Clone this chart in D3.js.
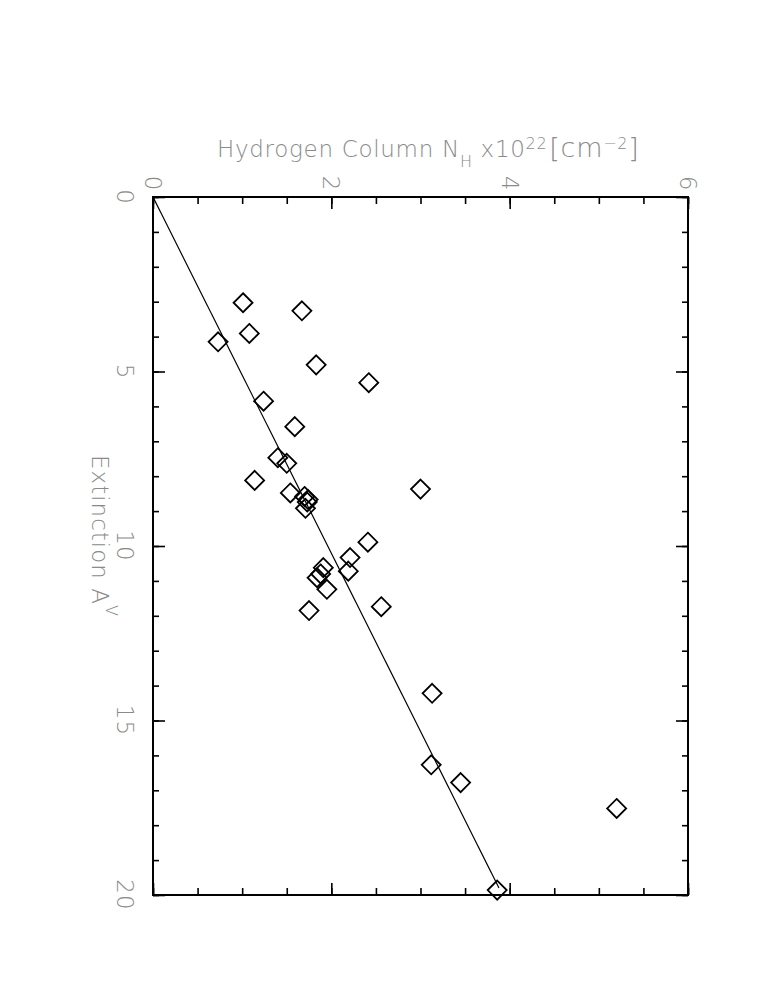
<!DOCTYPE html>
<html>
<head>
<meta charset="utf-8">
<script src="https://cdn.jsdelivr.net/npm/d3@7"></script>
<style>
  body { margin: 0; background: #fff; }
  svg text { font-family: "DejaVu Sans", "Liberation Sans", sans-serif; font-weight: 200; fill: #8a8a8a; }
</style>
</head>
<body>
<div class="canvas"></div>
<script>
// extinction A_V (vertical axis) and hydrogen column N_H x1e22 (horizontal axis)
const avValues = [3.03, 3.26, 3.91, 4.15, 4.81, 5.32, 5.85, 6.58, 7.47, 7.63,
                  8.12, 8.37, 8.48, 8.58, 8.67, 8.74, 8.92, 9.89, 10.33, 10.72,
                  10.62, 10.80, 10.91, 11.24, 11.74, 11.85, 14.22, 16.27, 16.78, 17.52, 19.86]
const nhValues = [1.01, 1.67, 1.08, 0.73, 1.83, 2.42, 1.24, 1.59, 1.40, 1.50,
                  1.14, 3.00, 1.54, 1.70, 1.74, 1.73, 1.71, 2.41, 2.21, 2.19,
                  1.91, 1.88, 1.84, 1.95, 2.56, 1.75, 3.13, 3.12, 3.45, 5.20, 3.86]

// fitted line N_H = k * A_V
const fitAv = [0, 19.8]
const fitNh = [0, 3.88]

const nhMajor = [0, 2, 4, 6]
const nhMinor = d3.range(0, 6.01, 0.5)
const avMajor = [0, 5, 10, 15, 20]
const avMinor = d3.range(0, 20.01, 1)

const width = 766, height = 996
const frame = {left: 153, right: 688, top: 197, bottom: 895}

const svg = d3.select('.canvas')
    .append('svg')
    .attr('width', width)
    .attr('height', height)

const x = d3.scaleLinear().domain([0, 6]).range([frame.left, frame.right])
const y = d3.scaleLinear().domain([0, 20]).range([frame.top, frame.bottom])

// tick marks on all four sides, pointing inwards
const tickSets = [
    {axis: d3.axisTop(x), vals: nhMinor, size: -7, pos: `translate(0,${frame.top})`},
    {axis: d3.axisTop(x), vals: nhMajor, size: -12, pos: `translate(0,${frame.top})`},
    {axis: d3.axisBottom(x), vals: nhMinor, size: -7, pos: `translate(0,${frame.bottom})`},
    {axis: d3.axisBottom(x), vals: nhMajor, size: -12, pos: `translate(0,${frame.bottom})`},
    {axis: d3.axisLeft(y), vals: avMinor, size: -6, pos: `translate(${frame.left},0)`},
    {axis: d3.axisLeft(y), vals: avMajor, size: -12, pos: `translate(${frame.left},0)`},
    {axis: d3.axisRight(y), vals: avMinor, size: -6, pos: `translate(${frame.right},0)`},
    {axis: d3.axisRight(y), vals: avMajor, size: -12, pos: `translate(${frame.right},0)`}
]

tickSets.forEach(s => {
    const g = svg.append('g')
        .attr('transform', s.pos)
        .call(s.axis.tickValues(s.vals).tickSize(s.size).tickFormat(''))
    g.select('.domain').remove()
    g.selectAll('.tick line').attr('stroke', '#000').attr('stroke-width', 1.6)
    g.selectAll('.tick text').remove()
})

// rotated tick labels
svg.append('g').selectAll('text')
    .data(nhMajor)
    .enter()
    .append('text')
    .attr('transform', d => `translate(${x(d)},${frame.top - 14}) rotate(90)`)
    .attr('text-anchor', 'middle')
    .attr('dominant-baseline', 'central')
    .style('font-size', '23px')
    .text(d => d)

svg.append('g').selectAll('text')
    .data(avMajor)
    .enter()
    .append('text')
    .attr('transform', d => `translate(${frame.left - 28},${y(d)}) rotate(90)`)
    .attr('text-anchor', 'middle')
    .attr('dominant-baseline', 'central')
    .style('font-size', '23px')
    .style('letter-spacing', '1px')
    .text(d => d)

// frame
svg.append('rect')
    .attr('x', frame.left)
    .attr('y', frame.top)
    .attr('width', frame.right - frame.left)
    .attr('height', frame.bottom - frame.top)
    .attr('fill', 'none')
    .attr('stroke', '#000')
    .attr('stroke-width', 2)

// fit line
svg.append('line')
    .attr('x1', x(fitNh[0])).attr('y1', y(fitAv[0]))
    .attr('x2', x(fitNh[1])).attr('y2', y(fitAv[1]))
    .attr('stroke', '#000')
    .attr('stroke-width', 1.2)

// diamonds
const r = 9.5
svg.append('g').selectAll('path')
    .data(avValues.map((a, i) => [nhValues[i], a]))
    .enter()
    .append('path')
    .attr('d', d => {
        const cx = x(d[0]), cy = y(d[1])
        return `M${cx},${cy - r}L${cx + r},${cy}L${cx},${cy + r}L${cx - r},${cy}Z`
    })
    .attr('fill', 'none')
    .attr('stroke', '#000')
    .attr('stroke-width', 1.8)

// top title
const title = svg.append('text')
    .attr('x', 217)
    .attr('y', 157)
    .style('font-size', '23px')
    .style('letter-spacing', '0.7px')
title.append('tspan').text('Hydrogen Column N')
title.append('tspan').attr('dy', 10).style('font-size', '16px').text('H')
title.append('tspan').attr('dy', -10).attr('dx', 8).text('x10')
title.append('tspan').attr('dy', -8).style('font-size', '16px').text('22')
title.append('tspan').attr('dy', 8).attr('dx', 2).style('font-size', '27px').text('[cm')
title.append('tspan').attr('dy', -8).style('font-size', '16px').text('−2')
title.append('tspan').attr('dy', 8).style('font-size', '27px').text(']')

// left title
const ytitle = svg.append('text')
    .attr('transform', 'translate(100,455) rotate(90)')
    .attr('dominant-baseline', 'central')
    .style('font-size', '23px')
    .style('letter-spacing', '1px')
ytitle.append('tspan').text('Extinction A')
ytitle.append('tspan').attr('dy', -12).style('font-size', '16px').text('V')
</script>
</body>
</html>
